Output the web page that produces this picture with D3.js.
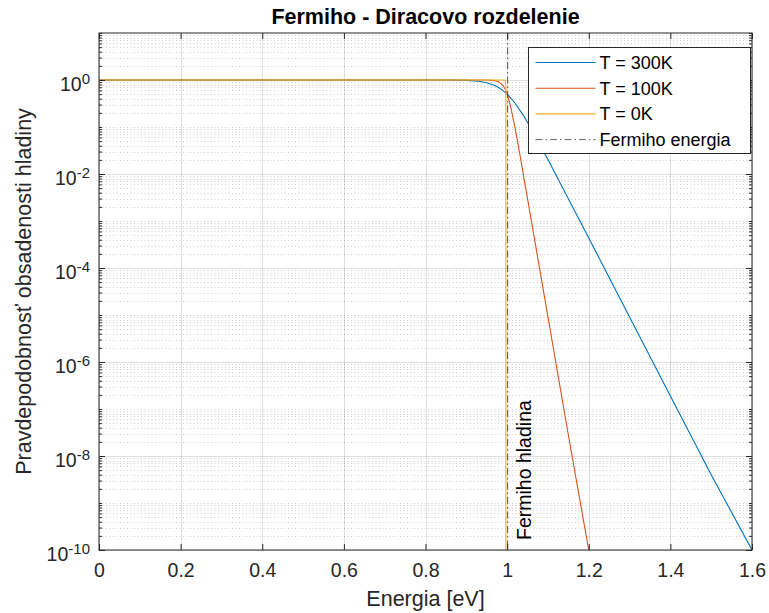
<!DOCTYPE html>
<html>
<head>
<meta charset="utf-8">
<script src="https://cdn.jsdelivr.net/npm/d3@7"></script>
<style>
    body { margin: 0; background: #fff; }
    svg { display: block; font-family: "Liberation Sans", Arial, Helvetica, sans-serif; }
</style>
</head>
<body>
<svg width="769" height="613"></svg>
<script>
'use strict';

// Values
const energy300 = [0, 0.80, 0.85, 0.90, 0.93, 0.95, 0.97, 0.98, 0.99, 1.00, 1.01, 1.02, 1.04, 1.06, 1.10, 1.20, 1.30, 1.40, 1.50, 1.60];
const prob300 = [1, 0.9996, 0.997, 0.980, 0.938, 0.874, 0.761, 0.684, 0.596, 0.5, 0.404, 0.316, 0.175, 0.0894, 0.0204, 4.35e-4, 9.1e-6, 1.9e-7, 4.0e-9, 1.0e-10];

const energy100 = [0, 0.90, 0.95, 0.97, 0.98, 0.99, 0.995, 1.00, 1.005, 1.01, 1.02, 1.03, 1.05, 1.10, 1.15, 1.20];
const prob100 = [1, 0.99999, 0.997, 0.970, 0.911, 0.761, 0.641, 0.5, 0.359, 0.239, 0.089, 0.0299, 0.0030, 9.1e-6, 2.8e-8, 1.0e-10];

const energy0 = [0, 0.995, 0.997, 0.997];
const prob0 = [1, 1, 0.7, 1e-10];

const fermiEnergy = 1;
const seriesNames = ["T = 300K", "T = 100K", "T = 0K"];
const xTicks = [0, 0.2, 0.4, 0.6, 0.8, 1, 1.2, 1.4, 1.6];
const yTickExp = [-10, -8, -6, -4, -2, 0];

const svg = d3.select("svg"),
    plotLeft = 99, plotRight = 752, plotTop = 33, plotBottom = 550,
    axisColor = "#262626";

const colors = ["#0072BD", "#D95319", "#EDB120"];

const x = d3.scaleLinear().domain([0, 1.6]).range([plotLeft, plotRight]);
const y = d3.scaleLog().domain([1e-10, 10]).range([plotBottom, plotTop]);

const yMajor = yTickExp.map(e => Math.pow(10, e));
const yMinor = [];
d3.range(-10, 1).forEach(e => {
    d3.range(1, 10).forEach(k => {
        const v = k * Math.pow(10, e);
        if (!yMajor.includes(v)) yMinor.push(v);
    });
});

svg.append("clipPath")
    .attr("id", "plot-clip")
    .append("rect")
    .attr("x", plotLeft).attr("y", plotTop)
    .attr("width", plotRight - plotLeft).attr("height", plotBottom - plotTop);

// grid
const grid = svg.append("g");

grid.selectAll(".minor")
    .data(yMinor)
    .enter().append("line")
    .attr("x1", plotLeft).attr("x2", plotRight)
    .attr("y1", d => Math.round(y(d)) + 0.5).attr("y2", d => Math.round(y(d)) + 0.5)
    .attr("stroke", axisColor)
    .attr("stroke-opacity", 0.25)
    .attr("stroke-width", 0.9)
    .attr("stroke-dasharray", "1,2.5");

grid.selectAll(".ymajor")
    .data(yMajor)
    .enter().append("line")
    .attr("x1", plotLeft).attr("x2", plotRight)
    .attr("y1", d => Math.round(y(d)) + 0.5).attr("y2", d => Math.round(y(d)) + 0.5)
    .attr("stroke", axisColor)
    .attr("stroke-opacity", 0.15);

grid.selectAll(".xmajor")
    .data(xTicks)
    .enter().append("line")
    .attr("y1", plotTop).attr("y2", plotBottom)
    .attr("x1", d => Math.round(x(d)) + 0.5).attr("x2", d => Math.round(x(d)) + 0.5)
    .attr("stroke", axisColor)
    .attr("stroke-opacity", 0.15);

// curves
const line = d3.line()
    .x(d => x(d[0]))
    .y(d => y(d[1]));

const series = [
    d3.zip(energy300, prob300),
    d3.zip(energy100, prob100),
    d3.zip(energy0, prob0)
];

const plot = svg.append("g").attr("clip-path", "url(#plot-clip)");

plot.selectAll(".curve")
    .data(series)
    .enter().append("path")
    .attr("class", "curve")
    .attr("d", line)
    .attr("fill", "none")
    .attr("stroke", (d, i) => colors[i])
    .attr("stroke-width", 1.1);

plot.append("line")
    .attr("x1", x(fermiEnergy) + 0.5).attr("x2", x(fermiEnergy) + 0.5)
    .attr("y1", plotTop).attr("y2", plotBottom)
    .attr("stroke", "#444")
    .attr("stroke-width", 0.9)
    .attr("stroke-dasharray", "7,3,1.5,3");

svg.append("text")
    .attr("transform", `translate(${x(fermiEnergy) + 24},${plotBottom - 10}) rotate(-90)`)
    .attr("font-size", 19.5)
    .attr("fill", "#000")
    .text("Fermiho hladina");

// axes (ticks inside, box)
const axes = svg.append("g");

const tick = g => g.call(s => s.select(".domain").remove())
    .call(s => s.selectAll("line").attr("stroke", axisColor));

axes.append("g").attr("transform", `translate(0,${plotBottom})`)
    .call(d3.axisBottom(x).tickValues(xTicks).tickSize(-6).tickSizeOuter(0).tickPadding(13).tickFormat(d3.format("~g")))
    .call(tick)
    .call(g => g.selectAll("text").attr("font-size", 19.5).attr("fill", axisColor));

axes.append("g").attr("transform", `translate(0,${plotTop})`)
    .call(d3.axisTop(x).tickValues(xTicks).tickSize(-6).tickSizeOuter(0).tickFormat(""))
    .call(tick);

[[d3.axisLeft, plotLeft], [d3.axisRight, plotRight]].forEach(([axis, pos]) => {
    axes.append("g").attr("transform", `translate(${pos},0)`)
        .call(axis(y).tickValues(yMajor).tickSize(-6).tickSizeOuter(0).tickFormat(""))
        .call(tick);
    axes.append("g").attr("transform", `translate(${pos},0)`)
        .call(axis(y).tickValues(yMinor.concat([10])).tickSize(-3).tickSizeOuter(0).tickFormat(""))
        .call(tick);
});

axes.selectAll("g").attr("font-family", null);

axes.append("rect")
    .attr("x", plotLeft).attr("y", plotTop)
    .attr("width", plotRight - plotLeft).attr("height", plotBottom - plotTop)
    .attr("fill", "none")
    .attr("stroke", axisColor);

const yLabels = axes.selectAll(".ylab")
    .data(yTickExp)
    .enter().append("text")
    .attr("x", plotLeft - 9)
    .attr("y", e => y(Math.pow(10, e)) + 10.5)
    .attr("text-anchor", "end")
    .attr("fill", axisColor)
    .attr("font-size", 19.5);
yLabels.append("tspan").text("10");
yLabels.append("tspan").attr("dy", -7).attr("font-size", 15).text(e => e);

// titles
svg.append("text")
    .attr("x", (plotLeft + plotRight) / 2).attr("y", 24)
    .attr("text-anchor", "middle")
    .attr("font-size", 21.5)
    .attr("font-weight", "bold")
    .text("Fermiho - Diracovo rozdelenie");

svg.append("text")
    .attr("x", (plotLeft + plotRight) / 2).attr("y", 606)
    .attr("text-anchor", "middle")
    .attr("font-size", 21.5)
    .attr("fill", axisColor)
    .text("Energia [eV]");

svg.append("text")
    .attr("transform", `translate(31,${(plotTop + plotBottom) / 2}) rotate(-90)`)
    .attr("text-anchor", "middle")
    .attr("font-size", 21.5)
    .attr("fill", axisColor)
    .text("Pravdepodobnosť obsadenosti hladiny");

// legend
const legend = svg.append("g").attr("transform", "translate(528.5,47.5)");

legend.append("rect")
    .attr("width", 222).attr("height", 106)
    .attr("fill", "#fff")
    .attr("stroke", axisColor);

const entries = seriesNames.map((name, i) => ({ name, color: colors[i], dash: null }))
    .concat([{ name: "Fermiho energia", color: "#555", dash: "7,3,1.5,3" }]);

const entry = legend.selectAll(".entry")
    .data(entries)
    .enter().append("g")
    .attr("transform", (d, i) => `translate(0,${15 + i * 25.7})`);

entry.append("line")
    .attr("x1", 7).attr("x2", 67)
    .attr("stroke", d => d.color)
    .attr("stroke-width", d => d.dash ? 0.9 : 1.1)
    .attr("stroke-dasharray", d => d.dash);

entry.append("text")
    .attr("x", 71).attr("y", 6.5)
    .attr("font-size", 18)
    .attr("fill", "#000")
    .text(d => d.name);
</script>
</body>
</html>
